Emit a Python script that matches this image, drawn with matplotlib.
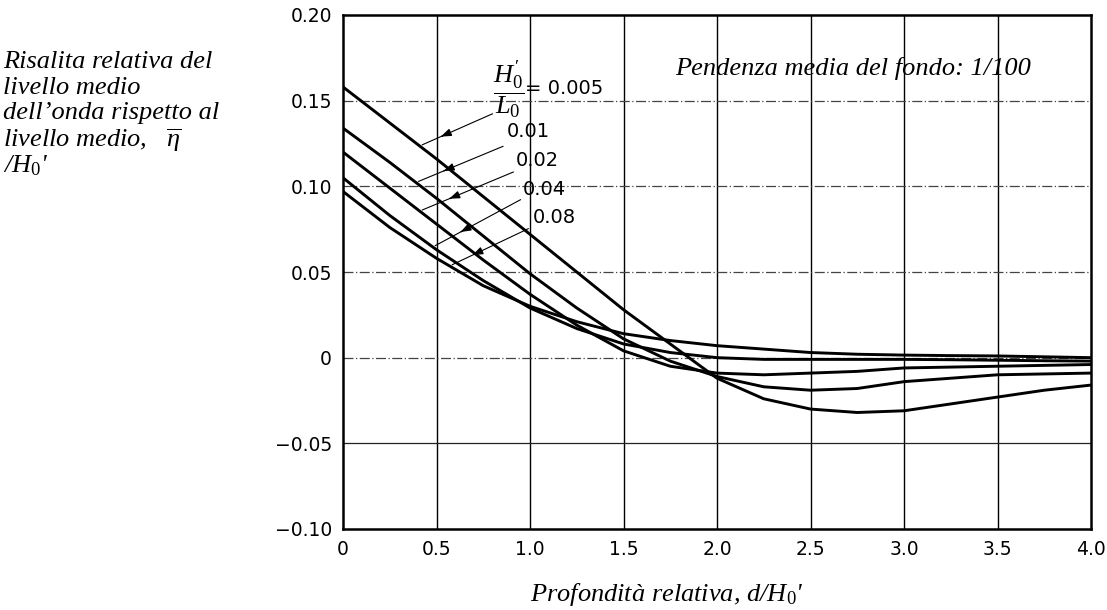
import numpy as np
import matplotlib
matplotlib.use("Agg")
import matplotlib.pyplot as plt

plt.rcParams['mathtext.fontset'] = 'custom'
plt.rcParams['mathtext.rm'] = 'Liberation Serif'
plt.rcParams['mathtext.it'] = 'Liberation Serif:italic'
plt.rcParams['mathtext.bf'] = 'Liberation Serif:bold'

# ---------------- data ----------------
x = [0.0, 0.25, 0.5, 0.75, 1.0, 1.25, 1.5, 1.75, 2.0, 2.25, 2.5, 2.75, 3.0, 3.25, 3.5, 3.75, 4.0]
y_0005 = [0.158, 0.137, 0.116, 0.094, 0.072, 0.050, 0.028, 0.008, -0.012, -0.024, -0.030, -0.032, -0.031, -0.027, -0.023, -0.019, -0.016]
y_001 = [0.134, 0.114, 0.093, 0.071, 0.049, 0.029, 0.011, -0.002, -0.011, -0.017, -0.019, -0.018, -0.014, -0.012, -0.010, -0.0095, -0.009]
y_002 = [0.120, 0.099, 0.078, 0.057, 0.037, 0.019, 0.004, -0.005, -0.009, -0.010, -0.009, -0.008, -0.006, -0.0055, -0.005, -0.0045, -0.004]
y_004 = [0.105, 0.083, 0.063, 0.045, 0.029, 0.017, 0.008, 0.003, 0.000, -0.001, -0.001, -0.001, -0.001, -0.0012, -0.0015, -0.0018, -0.002]
y_008 = [0.097, 0.076, 0.058, 0.042, 0.030, 0.021, 0.014, 0.010, 0.007, 0.005, 0.003, 0.002, 0.0015, 0.0012, 0.001, 0.0005, 0.0]
series = [y_0005, y_001, y_002, y_004, y_008]
steepness = ["0.005", "0.01", "0.02", "0.04", "0.08"]

xticks = [0, 0.5, 1.0, 1.5, 2.0, 2.5, 3.0, 3.5, 4.0]
xticklabels = ["0", "0.5", "1.0", "1.5", "2.0", "2.5", "3.0", "3.5", "4.0"]
yticks = [0.20, 0.15, 0.10, 0.05, 0.0, -0.05, -0.10]
yticklabels = ["0.20", "0.15", "0.10", "0.05", "0", "\u22120.05", "\u22120.10"]

# label anchors (layout)
label_start = [(0.813, 0.143), (0.87, 0.124), (0.925, 0.109), (0.963, 0.093), (1.005, 0.076)]
curve_hit_x = [0.41, 0.39, 0.41, 0.48, 0.57]
label_text_pos = [None, (0.99, 0.132), (1.04, 0.115), (1.075, 0.098), (1.13, 0.082)]

# ---------------- figure ----------------
fig = plt.figure(figsize=(11.07, 6.10), dpi=100)
ax = fig.add_axes([343/1107, 1-529/610, (1091-343)/1107, (529-15)/610])
ax.set_xlim(0, 4.0)
ax.set_ylim(-0.10, 0.20)

# grid
for xv in xticks[1:-1]:
    ax.axvline(xv, color='black', lw=1.0, zorder=1)
for yv in [0.15, 0.10, 0.05, 0.0]:
    ax.axhline(yv, color='#444444', lw=0.9, ls=(0, (8, 2, 1, 2)), zorder=1)
ax.axhline(-0.05, color='#222222', lw=0.9, zorder=1)

for s in ax.spines.values():
    s.set_linewidth(1.8)

# curves
for ys in series:
    ax.plot(x, ys, color='black', lw=2.1, solid_capstyle='butt',
            solid_joinstyle='round', zorder=3)

ax.set_xticks(xticks)
ax.set_xticklabels(xticklabels, fontfamily='DejaVu Sans', fontsize=13.5)
ax.set_yticks(yticks)
ax.set_yticklabels(yticklabels, fontfamily='DejaVu Sans', fontsize=13.5)
ax.tick_params(length=0, pad=8)

# annotations with arrows
for i, ys in enumerate(series):
    xe = curve_hit_x[i]
    ye = float(np.interp(xe, x, ys))
    xs, ysd = label_start[i]
    ax.annotate("", xy=(xe, ye), xytext=(xs, ysd),
                arrowprops=dict(arrowstyle='-', color='black', lw=0.8), zorder=4)
    xm = xe + 0.28 * (xs - xe)
    ym = ye + 0.28 * (ysd - ye)
    ax.annotate("", xy=(xm, ym), xytext=(xm + 0.06 * (xs - xe), ym + 0.06 * (ysd - ye)),
                arrowprops=dict(arrowstyle='-|>,head_length=0.6,head_width=0.22',
                                color='black', lw=1.0), zorder=4)
    if label_text_pos[i] is not None:
        tx, ty = label_text_pos[i]
        ax.text(tx, ty, steepness[i], fontfamily='DejaVu Sans', fontsize=14,
                ha='center', va='center', zorder=5)

ax.text(0.885, 0.1565, r"$\dfrac{H_0'}{L_0}$", fontsize=19, ha='center', va='center', zorder=5)
ax.text(0.975, 0.157, "= " + steepness[0], fontfamily='DejaVu Sans', fontsize=14,
        ha='left', va='center', zorder=5)

ax.text(2.73, 0.169, "Pendenza media del fondo: 1/100", fontfamily='Liberation Serif',
        style='italic', fontsize=19, ha='center', va='center', zorder=5)

# axis titles
fig.text(667/1107, 1-594/610, "Profondit\u00e0 relativa, d/H$_0$'", fontfamily='Liberation Serif',
         style='italic', fontsize=19, ha='center', va='center')

ylines = ["Risalita relativa del", "livello medio", "dell\u2019onda rispetto al",
          r"livello medio,   $\overline{\eta}$", "/H$_0$'"]
ypos = [62, 88, 113, 140, 166]
for t, py in zip(ylines, ypos):
    fig.text(3/1107, 1-py/610, t, fontfamily='Liberation Serif', style='italic',
             fontsize=19, ha='left', va='center')

fig.savefig("out.png", dpi=100)
